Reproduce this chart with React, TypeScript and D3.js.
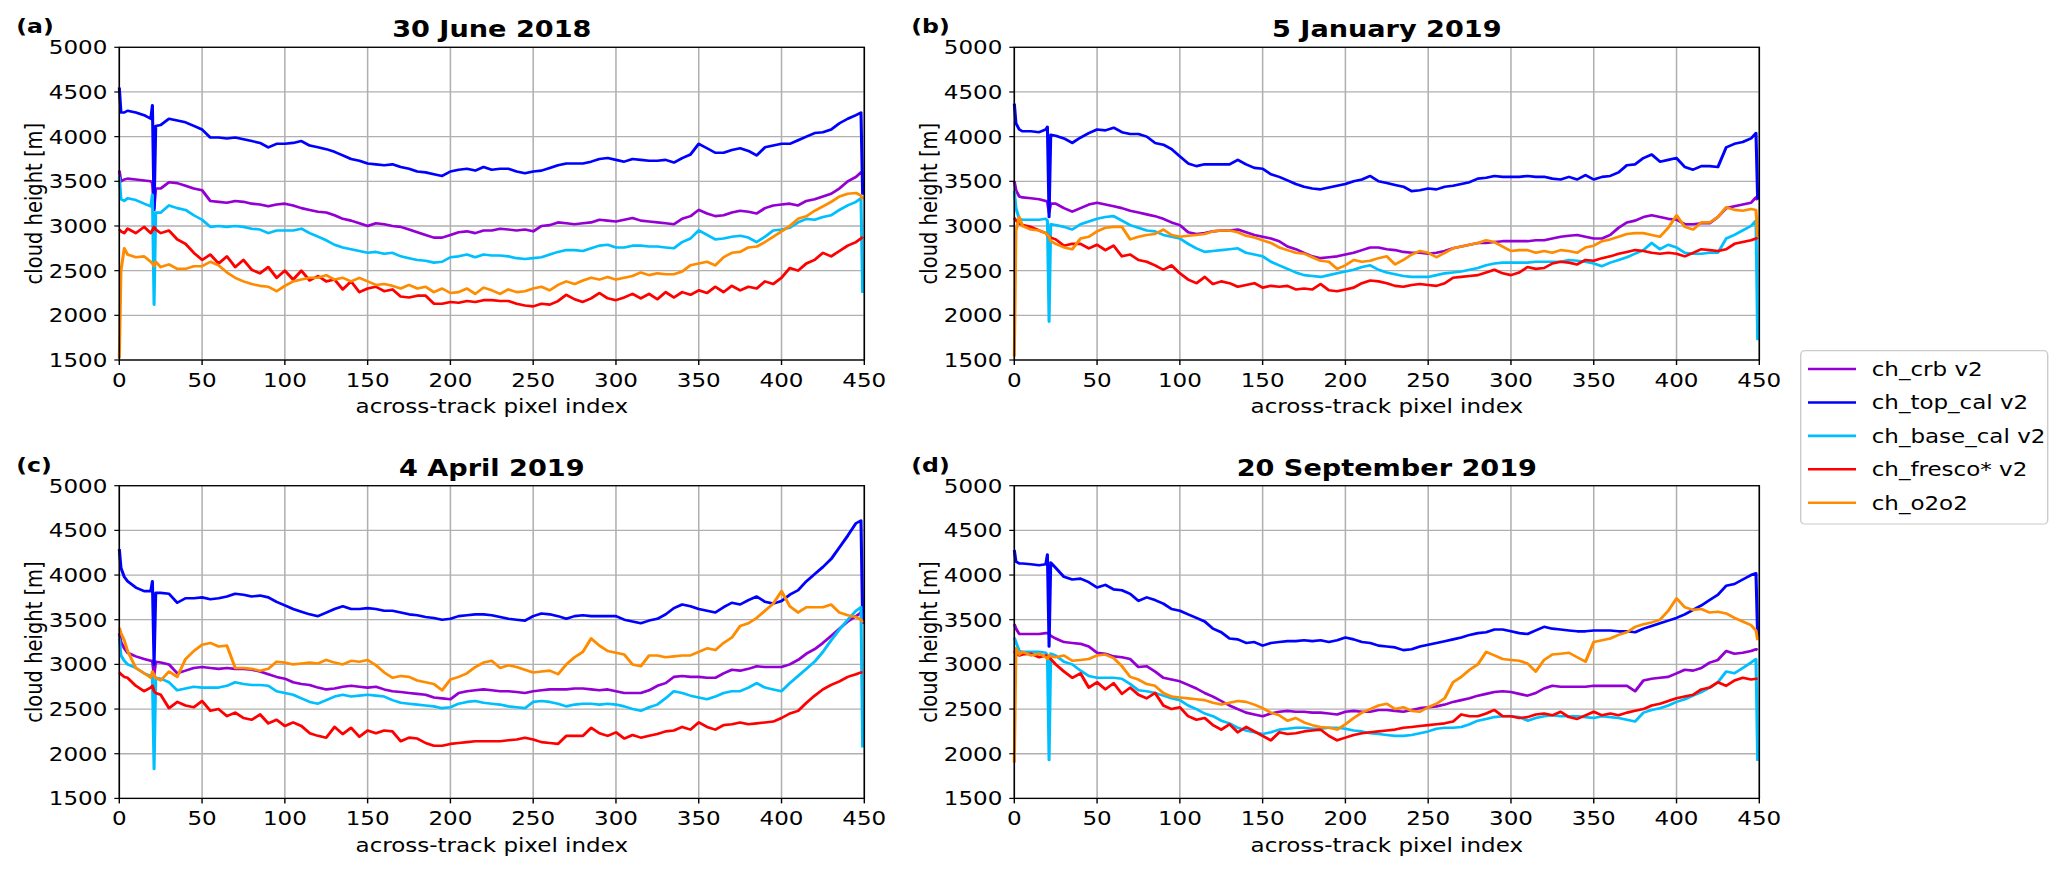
// Four-panel cloud height comparison (across-track profiles), drawn with d3 scales
import * as d3 from "d3"

// the reference picture is stretched sideways, so everything is drawn in a narrower
// viewBox and pulled back out to full width with preserveAspectRatio="none"
const SX = 1.18
const W = 2067
const H = 877
const FONT = "DejaVu Sans, Verdana, sans-serif"

// across-track pixel index of every sample
const XS = [
  0, 1, 3, 5, 10, 15, 19, 20, 21, 22,
  25, 30, 35, 40, 45, 50, 55, 60, 65, 70,
  75, 80, 85, 90, 95, 100, 105, 110, 115, 120,
  125, 130, 135, 140, 145, 150, 155, 160, 165, 170,
  175, 180, 185, 190, 195, 200, 205, 210, 215, 220,
  225, 230, 235, 240, 245, 250, 255, 260, 265, 270,
  275, 280, 285, 290, 295, 300, 305, 310, 315, 320,
  325, 330, 335, 340, 345, 350, 355, 360, 365, 370,
  375, 380, 385, 390, 395, 400, 405, 410, 415, 420,
  425, 430, 435, 440, 445,
  448, 449,
]

const SERIES = ["ch_crb v2", "ch_top_cal v2", "ch_base_cal v2", "ch_fresco* v2", "ch_o2o2"]
const COLORS = ["#9400d3", "#0000ff", "#00bfff", "#ff0000", "#ff8c00"]
const TITLES = ["30 June 2018", "5 January 2019", "4 April 2019", "20 September 2019"]
const TAGS = ["(a)", "(b)", "(c)", "(d)"]
const X_TICKS = [0, 50, 100, 150, 200, 250, 300, 350, 400, 450]
const Y_TICKS = [1500, 2000, 2500, 3000, 3500, 4000, 4500, 5000]

// (a) 30 June 2018
const A_CRB = [
  3620, 3500, 3520, 3530, 3520, 3510, 3500, 3480, 3200, 3420,
  3420, 3490, 3480, 3450, 3420, 3400, 3280, 3270, 3260, 3280,
  3270, 3250, 3240, 3220, 3240, 3250, 3230, 3200, 3180, 3160,
  3150, 3120, 3080, 3060, 3030, 3000, 3030, 3020, 3000, 2990,
  2960, 2930, 2900, 2870, 2870, 2900, 2930, 2940, 2920, 2950,
  2950, 2970, 2960, 2950, 2960, 2940, 3000, 3010, 3040, 3030,
  3020, 3030, 3040, 3070, 3060, 3050, 3070, 3090, 3060, 3050,
  3040, 3030, 3020, 3080, 3110, 3180, 3140, 3110, 3120, 3150,
  3170, 3160, 3140, 3200, 3230, 3240, 3250, 3230, 3280, 3300,
  3330, 3360, 3420, 3500, 3550,
  3600, 3580,
]
const A_TOP = [
  4550, 4270, 4270, 4290, 4270, 4240, 4200, 4350, 3180, 4120,
  4130, 4200, 4180, 4160, 4120, 4080, 3990, 3990, 3980, 3990,
  3970, 3950, 3930, 3880, 3920, 3920, 3930, 3950, 3900, 3880,
  3860, 3830, 3790, 3750, 3730, 3700, 3690, 3680, 3690, 3660,
  3640, 3610, 3600, 3580, 3560, 3610, 3630, 3640, 3620, 3660,
  3630, 3640, 3640, 3610, 3590, 3610, 3620, 3650, 3680, 3700,
  3700, 3700, 3720, 3750, 3760, 3740, 3720, 3750, 3740, 3730,
  3730, 3740, 3710, 3760, 3800, 3920, 3870, 3820, 3820, 3850,
  3870, 3840, 3790, 3880, 3900, 3920, 3920, 3960, 4000, 4040,
  4050, 4080, 4150, 4200, 4240,
  4270, 3350,
]
const A_BASE = [
  3550, 3300, 3280, 3310, 3290, 3250, 3220, 3350, 2120, 3150,
  3150, 3230, 3200, 3180, 3120, 3070, 2990, 3000, 2990, 3000,
  2990, 2970, 2960, 2920, 2950, 2950, 2950, 2970, 2920, 2880,
  2840, 2790, 2760, 2740, 2720, 2700, 2710, 2690, 2700, 2660,
  2640, 2620, 2610, 2590, 2600, 2650, 2660, 2680, 2650, 2680,
  2670, 2670, 2660, 2640, 2630, 2640, 2650, 2680, 2710, 2730,
  2730, 2720, 2750, 2780, 2790, 2760, 2760, 2780, 2780, 2770,
  2770, 2760, 2750, 2820, 2860, 2950, 2900, 2850, 2860, 2880,
  2890, 2870, 2820, 2880, 2950, 2960, 2980, 3040, 3080, 3070,
  3100, 3120, 3180, 3230, 3270,
  3310, 2250,
]
const A_FRESCO = [
  2960, 2940, 2920, 2970, 2920, 2990, 2920, 2950, 2990, 2960,
  2920, 2950, 2850, 2800, 2700, 2620, 2680, 2580, 2660, 2540,
  2620, 2510, 2470, 2540, 2420, 2500, 2400, 2500, 2390, 2440,
  2380, 2400, 2290, 2380, 2260, 2300, 2320, 2270, 2290, 2210,
  2200, 2220, 2220, 2130, 2130, 2150, 2140, 2160, 2150, 2170,
  2170, 2160, 2160, 2130, 2110, 2100, 2130, 2120, 2160, 2230,
  2180, 2150, 2190, 2250, 2190, 2170, 2200, 2240, 2190, 2240,
  2180, 2260, 2200, 2260, 2230, 2280, 2250, 2320, 2260, 2330,
  2280, 2320, 2300, 2380, 2350, 2420, 2530, 2500, 2580, 2620,
  2700, 2660, 2720, 2780, 2820,
  2860, 2880,
]
const A_O2O2 = [
  1520, 2500, 2750, 2680, 2650, 2660, 2600, 2580, 2550, 2600,
  2540, 2570, 2520, 2520, 2550, 2550, 2600, 2560, 2480, 2420,
  2380, 2350, 2330, 2320, 2270, 2330, 2380, 2400, 2420, 2420,
  2450, 2400, 2420, 2380, 2420, 2380, 2340, 2350, 2330, 2300,
  2340, 2300, 2320, 2260, 2300, 2250, 2260, 2300, 2240, 2310,
  2280, 2240, 2290, 2260, 2270, 2300, 2320, 2280, 2340, 2380,
  2350, 2390, 2420, 2400, 2430, 2400, 2420, 2440, 2480, 2450,
  2470, 2460, 2460, 2490, 2560, 2580, 2600, 2560, 2650, 2700,
  2710, 2760, 2770, 2820, 2880, 2940, 3000, 3080, 3110, 3170,
  3220, 3270, 3330, 3360, 3370,
  3340, 3300,
]

// (b) 5 January 2019
const B_CRB = [
  3500, 3400, 3330, 3320, 3310, 3300, 3280, 3270, 3150, 3250,
  3250, 3200, 3160, 3200, 3240, 3260, 3240, 3220, 3200, 3170,
  3150, 3130, 3110, 3080, 3040, 3010, 2930, 2910, 2920, 2940,
  2950, 2950, 2960, 2930, 2900, 2880, 2860, 2830, 2770, 2740,
  2700, 2660, 2640, 2650, 2660, 2680, 2700, 2730, 2760, 2760,
  2740, 2730, 2710, 2700, 2700, 2690, 2700, 2720, 2750, 2770,
  2790, 2810, 2810, 2820, 2830, 2830, 2830, 2830, 2840, 2840,
  2860, 2880, 2890, 2900, 2880, 2860, 2860, 2900, 2980, 3040,
  3060, 3100, 3120, 3100, 3080, 3070, 3020, 3020, 3030, 3030,
  3100, 3200, 3220, 3240, 3260,
  3320, 3290,
]
const B_TOP = [
  4370, 4150, 4080, 4060, 4060, 4050, 4080, 4110, 3100, 4020,
  4010, 3980, 3930, 3990, 4040, 4080, 4070, 4100, 4050, 4030,
  4030, 4000, 3930, 3910, 3860, 3780, 3700, 3670, 3690, 3690,
  3690, 3690, 3740, 3690, 3650, 3640, 3580, 3550, 3510, 3470,
  3440, 3420, 3410, 3430, 3450, 3470, 3500, 3520, 3560, 3500,
  3480, 3460, 3440, 3390, 3400, 3420, 3410, 3440, 3450, 3470,
  3490, 3530, 3540, 3560, 3550, 3550, 3550, 3560, 3550, 3550,
  3530, 3520, 3550, 3520, 3570, 3520, 3550, 3560, 3600, 3680,
  3690, 3760, 3800, 3720, 3740, 3760, 3660, 3630, 3670, 3670,
  3660, 3880, 3920, 3940, 3980,
  4040, 3300,
]
const B_BASE = [
  3390, 3200, 3080, 3070, 3070, 3070, 3080, 3060, 1930, 3020,
  3010, 2990, 2960, 3020, 3050, 3080, 3100, 3110, 3060, 3010,
  2980, 2950, 2940, 2900, 2880, 2860, 2800, 2750, 2710, 2720,
  2730, 2740, 2750, 2700, 2680, 2660, 2600, 2560, 2520, 2480,
  2450, 2440, 2430, 2450, 2470, 2490, 2510, 2540, 2560, 2510,
  2480, 2460, 2440, 2430, 2430, 2430, 2450, 2470, 2480, 2490,
  2510, 2530, 2560, 2580, 2590, 2590, 2590, 2590, 2600, 2600,
  2600, 2600, 2620, 2610, 2600, 2580, 2550, 2590, 2620, 2650,
  2690, 2730, 2810, 2740, 2790, 2760, 2700, 2690, 2690, 2700,
  2700, 2860, 2900, 2950, 3000,
  3060, 1720,
]
const B_FRESCO = [
  3090, 3060, 3030, 3010, 2990, 2950, 2920, 2900, 2880, 2870,
  2850, 2780, 2800, 2800, 2750, 2790, 2730, 2780, 2660, 2680,
  2620, 2600, 2560, 2510, 2560, 2470, 2400, 2360, 2430, 2350,
  2380, 2360, 2320, 2340, 2360, 2310, 2330, 2320, 2330, 2290,
  2300, 2290, 2350, 2280, 2270, 2290, 2310, 2360, 2390, 2380,
  2360, 2330, 2320, 2340, 2350, 2340, 2330, 2360, 2420, 2430,
  2440, 2450, 2480, 2510, 2470, 2450, 2480, 2540, 2520, 2530,
  2580, 2600, 2590, 2570, 2620, 2610, 2640, 2660, 2690, 2710,
  2730, 2720, 2700, 2690, 2700, 2690, 2660, 2700, 2740, 2730,
  2720, 2740, 2800, 2820, 2840,
  2860, 2870,
]
const B_O2O2 = [
  1540, 2950, 3100, 3000, 2960, 2950, 2920, 2900, 2880, 2830,
  2800, 2760, 2740, 2860, 2880, 2940, 2980, 2990, 2990, 2850,
  2880, 2900, 2910, 2960, 2900, 2880, 2890, 2900, 2910, 2940,
  2950, 2950, 2930, 2890, 2870, 2840, 2810, 2760, 2730, 2700,
  2690, 2650, 2610, 2600, 2520, 2560, 2620, 2600, 2610, 2640,
  2660, 2570, 2620, 2680, 2720, 2700, 2650, 2700, 2750, 2770,
  2790, 2810, 2840, 2820, 2770, 2720, 2730, 2730, 2700, 2720,
  2700, 2730, 2720, 2700, 2760, 2780, 2830, 2850, 2880, 2910,
  2920, 2920, 2900, 2880, 2980, 3120, 2990, 2960, 3040, 3040,
  3100, 3210, 3180, 3170, 3190,
  3180, 2880,
]

// (c) 4 April 2019
const C_CRB = [
  3350, 3250, 3180, 3130, 3090, 3060, 3040, 3040, 2880, 3030,
  3020, 3000, 2900, 2930, 2960, 2970, 2960, 2950, 2960, 2950,
  2950, 2940, 2920, 2890, 2860, 2840, 2800, 2780, 2770, 2740,
  2720, 2730, 2750, 2760, 2750, 2740, 2750, 2720, 2700, 2690,
  2680, 2670, 2660, 2630, 2620, 2610, 2680, 2700, 2710, 2720,
  2710, 2700, 2700, 2690, 2680, 2700, 2710, 2720, 2720, 2720,
  2730, 2730, 2720, 2710, 2720, 2700, 2680, 2680, 2680, 2710,
  2760, 2790, 2860, 2870, 2860, 2860, 2850, 2850, 2900, 2940,
  2930, 2950, 2980, 2970, 2970, 2970, 3000, 3050, 3120, 3170,
  3240, 3320, 3400, 3480, 3540,
  3580, 3450,
]
const C_TOP = [
  4290, 4080, 3980, 3930, 3860, 3820, 3820, 3930, 3000, 3800,
  3800, 3790, 3690, 3740, 3740, 3750, 3730, 3740, 3760, 3790,
  3780, 3760, 3770, 3750, 3700, 3660, 3620, 3590, 3560, 3540,
  3580, 3620, 3650, 3620, 3620, 3630, 3620, 3600, 3600, 3580,
  3560, 3550, 3530, 3520, 3500, 3510, 3540, 3550, 3560, 3560,
  3550, 3530, 3510, 3500, 3490, 3540, 3570, 3560, 3540, 3510,
  3540, 3550, 3540, 3540, 3540, 3540, 3500, 3480, 3460, 3490,
  3510, 3560, 3630, 3670, 3650, 3620, 3600, 3580, 3640, 3690,
  3670, 3720, 3760, 3700, 3680, 3710, 3780, 3830, 3930, 4010,
  4090, 4180, 4310, 4440, 4580,
  4610, 3480,
]
const C_BASE = [
  3290, 3100, 3040, 3000, 2960, 2900, 2870, 2860, 1830, 2850,
  2840, 2800, 2710, 2730, 2750, 2740, 2740, 2740, 2760, 2800,
  2780, 2770, 2770, 2760, 2700, 2680, 2660, 2620, 2580, 2560,
  2600, 2640, 2660, 2640, 2650, 2660, 2650, 2640, 2600, 2570,
  2560, 2550, 2540, 2530, 2510, 2520, 2560, 2580, 2590, 2570,
  2560, 2550, 2530, 2520, 2510, 2580, 2590, 2580, 2560, 2530,
  2550, 2560, 2560, 2550, 2560, 2550, 2530, 2500, 2480, 2520,
  2550, 2620, 2700, 2680, 2650, 2630, 2610, 2640, 2680, 2700,
  2700, 2740, 2790, 2740, 2720, 2700, 2790, 2870, 2950, 3030,
  3140, 3270, 3390, 3500, 3600,
  3640, 2070,
]
const C_FRESCO = [
  2910, 2890, 2860, 2850, 2760, 2700, 2740, 2760, 2700, 2680,
  2660, 2510, 2580, 2540, 2520, 2590, 2480, 2500, 2420, 2460,
  2400, 2380, 2440, 2340, 2380, 2310, 2350, 2310, 2230, 2200,
  2180, 2300, 2220, 2290, 2190, 2260, 2230, 2260, 2250, 2140,
  2180, 2170, 2120, 2090, 2090, 2110, 2120, 2130, 2140, 2140,
  2140, 2140, 2150, 2160, 2180, 2160, 2130, 2120, 2110, 2200,
  2200, 2200, 2290, 2230, 2200, 2240, 2170, 2210, 2180, 2200,
  2220, 2250, 2260, 2300, 2270, 2350, 2300, 2270, 2320, 2330,
  2350, 2330, 2340, 2350, 2360, 2400, 2450, 2480, 2570, 2650,
  2720, 2770, 2810, 2860, 2890,
  2910, 2910,
]
const C_O2O2 = [
  3410, 3350, 3270, 3150, 2960, 2900, 2850, 2920, 2880, 2850,
  2820, 2920, 2860, 3060, 3150, 3220, 3240, 3200, 3210, 2960,
  2960, 2950, 2930, 2950, 3030, 3020, 3000, 3010, 3020, 3010,
  3050, 3020, 3000, 3040, 3030, 3050, 2990, 2910, 2850, 2870,
  2860, 2820, 2800, 2780, 2710, 2830, 2860, 2900, 2970, 3020,
  3040, 2960, 2990, 2970, 2940, 2910, 2920, 2930, 2890, 3000,
  3080, 3140, 3290, 3210, 3150, 3130, 3110, 3000, 2980, 3100,
  3100, 3080, 3090, 3100, 3100, 3140, 3180, 3160, 3240, 3300,
  3430, 3460, 3520, 3600, 3680, 3820, 3650, 3580, 3640, 3640,
  3640, 3670, 3580, 3550, 3530,
  3500, 3470,
]

// (d) 20 September 2019
const D_CRB = [
  3450, 3400, 3340, 3340, 3340, 3340, 3350, 3350, 3340, 3320,
  3290, 3250, 3240, 3230, 3200, 3130, 3120, 3090, 3080, 3060,
  2970, 2980, 2920, 2850, 2830, 2810, 2770, 2730, 2680, 2640,
  2590, 2540, 2500, 2460, 2440, 2420, 2450, 2470, 2480, 2470,
  2470, 2460, 2460, 2450, 2440, 2470, 2480, 2470, 2470, 2490,
  2490, 2480, 2470, 2490, 2510, 2520, 2530, 2550, 2580, 2600,
  2620, 2650, 2670, 2690, 2700, 2690, 2670, 2650, 2680, 2730,
  2760, 2750, 2750, 2750, 2750, 2760, 2760, 2760, 2760, 2760,
  2700, 2820, 2840, 2850, 2860, 2900, 2940, 2930, 2960, 3020,
  3050, 3150, 3120, 3130, 3150,
  3170, 3160,
]
const D_TOP = [
  4280, 4150, 4130, 4130, 4120, 4110, 4120, 4230, 3200, 4140,
  4080, 3980, 3950, 3960, 3920, 3860, 3890, 3840, 3830, 3790,
  3710, 3750, 3720, 3680, 3620, 3600, 3560, 3520, 3480, 3400,
  3360, 3290, 3280, 3240, 3250, 3210, 3240, 3250, 3260, 3260,
  3270, 3260, 3270, 3250, 3270, 3300, 3280, 3250, 3240, 3210,
  3200, 3190, 3160, 3170, 3200, 3220, 3240, 3260, 3280, 3300,
  3330, 3350, 3360, 3390, 3390, 3370, 3350, 3340, 3380, 3420,
  3400, 3390, 3380, 3370, 3370, 3380, 3380, 3380, 3370, 3370,
  3360, 3400, 3430, 3460, 3490, 3520, 3560, 3610, 3660, 3720,
  3780, 3880, 3900, 3950, 4000,
  4020, 3300,
]
const D_BASE = [
  3300, 3250, 3150, 3140, 3140, 3140, 3130, 3100, 1930, 3120,
  3100, 3030, 3000, 2930, 2870, 2850, 2850, 2850, 2840, 2780,
  2710, 2700, 2680, 2650, 2620, 2600, 2540, 2500, 2450, 2420,
  2370, 2340, 2290, 2260, 2240, 2220, 2240, 2270, 2280, 2290,
  2290, 2280, 2280, 2290, 2290, 2280, 2260, 2250, 2230, 2220,
  2210, 2200, 2200, 2210, 2230, 2250, 2280, 2290, 2290, 2300,
  2330, 2370, 2390, 2410, 2420, 2420, 2410, 2370, 2400, 2420,
  2430, 2420, 2420, 2420, 2410, 2400, 2420, 2410, 2400, 2380,
  2360, 2460, 2490, 2510, 2540, 2580, 2610, 2650, 2690, 2740,
  2800, 2920, 2900, 2960, 3020,
  3060, 1920,
]
const D_FRESCO = [
  3150, 3120, 3100, 3110, 3120, 3080, 3100, 3090, 3080, 3060,
  3000, 2920, 2850, 2900, 2740, 2800, 2720, 2790, 2670, 2740,
  2660, 2620, 2680, 2540, 2500, 2520, 2420, 2380, 2400, 2320,
  2270, 2330, 2240, 2300, 2250, 2200, 2150, 2240, 2220, 2230,
  2250, 2260, 2270, 2200, 2150, 2180, 2210, 2230, 2240, 2250,
  2260, 2270, 2290, 2300, 2310, 2320, 2330, 2340, 2360, 2440,
  2420, 2420, 2450, 2490, 2420, 2420, 2400, 2410, 2440, 2450,
  2430, 2470, 2410, 2390, 2430, 2470, 2430, 2450, 2430, 2460,
  2480, 2500, 2540, 2560, 2590, 2620, 2640, 2660, 2720, 2740,
  2800, 2760, 2820, 2850, 2830,
  2840, 2840,
]
const D_O2O2 = [
  1900, 3180, 3110, 3140, 3100, 3120, 3080, 3060, 3100, 3090,
  3080, 3100, 3040, 3050, 3060, 3100, 3110, 3070, 2980, 2860,
  2830, 2780, 2760, 2680, 2640, 2630, 2620, 2610, 2600, 2570,
  2550, 2570, 2590, 2580, 2550, 2510, 2460, 2430, 2370, 2400,
  2350, 2320, 2300, 2290, 2270, 2330, 2400, 2460, 2500, 2540,
  2560, 2500, 2520, 2480, 2470, 2520, 2560, 2620, 2800, 2860,
  2940, 3000, 3140, 3100, 3060, 3050, 3040, 3010, 2920, 3050,
  3110, 3120, 3130, 3080, 3030, 3250, 3270, 3290, 3330, 3360,
  3420, 3450, 3470, 3500, 3600, 3740, 3640, 3610, 3620, 3580,
  3590, 3570, 3520, 3480, 3440,
  3380, 3270,
]

const PANELS = [
  [A_CRB, A_TOP, A_BASE, A_FRESCO, A_O2O2],
  [B_CRB, B_TOP, B_BASE, B_FRESCO, B_O2O2],
  [C_CRB, C_TOP, C_BASE, C_FRESCO, C_O2O2],
  [D_CRB, D_TOP, D_BASE, D_FRESCO, D_O2O2],
]

// plot areas, in picture pixels
const PLOT_W = 745
const PLOT_H = 312.7
const PLOT_LEFT = [119.3, 1014.3, 119.3, 1014.3]
const PLOT_TOP = [47.3, 47.3, 485.7, 485.7]

const FS = 19.5

function Panel({ i }: { i: number }) {
  const left = PLOT_LEFT[i] / SX
  const right = (PLOT_LEFT[i] + PLOT_W) / SX
  const top = PLOT_TOP[i]
  const bottom = top + PLOT_H
  const cx = (left + right) / 2

  const x = d3.scaleLinear().domain([0, 450]).range([left, right])
  const y = d3.scaleLinear().domain([1500, 5000]).range([bottom, top])
  const line = d3.line<number>().x((_, k) => x(XS[k])).y(d => y(d))

  return (
    <g>
      {/* grid */}
      {X_TICKS.map(t => (
        <line key={"gx" + t} x1={x(t)} x2={x(t)} y1={top} y2={bottom} stroke="#b0b0b0" strokeWidth={1.3} />
      ))}
      {Y_TICKS.map(t => (
        <line key={"gy" + t} x1={left} x2={right} y1={y(t)} y2={y(t)} stroke="#b0b0b0" strokeWidth={1.3} />
      ))}

      {/* series, legend order = draw order */}
      {PANELS[i].map((vals, s) => (
        <path key={s} d={line(vals) ?? ""} fill="none" stroke={COLORS[s]} strokeWidth={2.6}
          strokeLinejoin="round" />
      ))}

      {/* frame */}
      <rect x={left} y={top} width={right - left} height={PLOT_H} fill="none" stroke="#000" strokeWidth={1.3} />

      {/* ticks */}
      {X_TICKS.map(t => (
        <g key={"tx" + t}>
          <line x1={x(t)} x2={x(t)} y1={bottom} y2={bottom + 5} stroke="#000" strokeWidth={1.2} />
          <text x={x(t)} y={bottom + 27} textAnchor="middle" fontSize={FS} fontFamily={FONT}>{t}</text>
        </g>
      ))}
      {Y_TICKS.map(t => (
        <g key={"ty" + t}>
          <line x1={left - 5 / SX} x2={left} y1={y(t)} y2={y(t)} stroke="#000" strokeWidth={1.2} />
          <text x={left - 12 / SX} y={y(t)} dy="0.36em" textAnchor="end" fontSize={FS} fontFamily={FONT}>{t}</text>
        </g>
      ))}

      {/* labels */}
      <text x={cx} y={bottom + 53.5} textAnchor="middle" fontSize={FS} fontFamily={FONT}>
        across-track pixel index
      </text>
      <text transform={`translate(${(PLOT_LEFT[i] - 85) / SX},${(top + bottom) / 2}) rotate(-90)`}
        textAnchor="middle" dy="0.35em" fontSize={FS} fontFamily={FONT}>
        cloud height [m]
      </text>
      <text x={cx} y={top - 10} textAnchor="middle" fontSize={23} fontWeight="bold" fontFamily={FONT}>
        {TITLES[i]}
      </text>
      <text x={(PLOT_LEFT[i] - 103) / SX} y={top - 14} fontSize={20} fontWeight="bold" fontFamily={FONT}>
        {TAGS[i]}
      </text>
    </g>
  )
}

function Legend() {
  const bx = 1800.7 / SX
  const by = 350.7
  const bw = (2047.7 - 1800.7) / SX
  const bh = 173.3
  const rows = d3.scaleLinear().domain([0, SERIES.length - 1]).range([369, 502.7])
  return (
    <g>
      <rect x={bx} y={by} width={bw} height={bh} rx={4 / SX} ry={4} fill="#fff" fillOpacity={0.8}
        stroke="#cccccc" strokeWidth={1.2} />
      {SERIES.map((name, s) => (
        <g key={name}>
          <line x1={1808 / SX} x2={1856 / SX} y1={rows(s)} y2={rows(s)} stroke={COLORS[s]} strokeWidth={2.6} />
          <text x={1871.7 / SX} y={rows(s)} dy="0.36em" fontSize={FS} fontFamily={FONT}>{name}</text>
        </g>
      ))}
    </g>
  )
}

export default function App() {
  return (
    <div style={{ width: W, height: H }}>
      <style>{"body{margin:0;background:#fff}"}</style>
      <svg width={W} height={H} viewBox={`0 0 ${W / SX} ${H}`} preserveAspectRatio="none"
        style={{ display: "block", background: "#fff" }}>
        {[0, 1, 2, 3].map(i => <Panel key={i} i={i} />)}
        <Legend />
      </svg>
    </div>
  )
}
